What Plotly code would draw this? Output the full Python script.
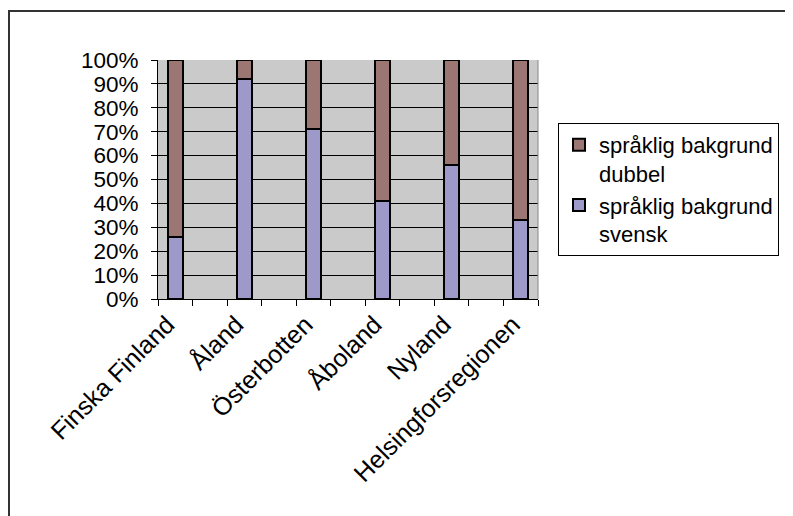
import plotly.graph_objects as go

regions = ["Finska Finland", "Åland", "Österbotten", "Åboland", "Nyland", "Helsingforsregionen"]
svensk = [26, 92, 71, 41, 56, 33]
dubbel = [74, 8, 29, 59, 44, 67]
series_names = ["språklig bakgrund<br>svensk", "språklig bakgrund<br>dubbel"]
y_ticks = list(range(0, 101, 10))
y_labels = [f"{v}%" for v in y_ticks]

# Excel-style layout: an empty category between each region
cats, sv_vals, du_vals = [], [], []
for i, name in enumerate(regions):
    cats.append(name); sv_vals.append(svensk[i]); du_vals.append(dubbel[i])
    if i < len(regions) - 1:
        cats.append(" " * (i + 1)); sv_vals.append(None); du_vals.append(None)

FONT = "Liberation Sans, Arial, sans-serif"
fig = go.Figure()
fig.add_trace(go.Bar(x=cats, y=sv_vals, name=series_names[0],
                     marker=dict(color="#9D99C8", line=dict(color="black", width=2))))
fig.add_trace(go.Bar(x=cats, y=du_vals, name=series_names[1],
                     marker=dict(color="#9B7672", line=dict(color="black", width=2))))

OFF = 8  # page body margin
W, H = 793 - OFF, 516 - OFF
L, R, T, B = 158 - OFF, 538 - OFF, 60 - OFF, 299 - OFF
def px(x): return (x - OFF - L) / (R - L)
def py(y): return (B - (y - OFF)) / (B - T)

fig.update_layout(
    width=W, height=H,
    barmode="stack", bargap=0.58,
    paper_bgcolor="white", plot_bgcolor="#CACACA",
    margin=dict(l=L, r=W - R, t=T, b=H - B, pad=0),
    font=dict(family=FONT, size=22, color="black"),
    showlegend=True,
    legend=dict(x=px(558), y=py(123), xanchor="left", yanchor="top",
                traceorder="reversed", valign="top",
                bgcolor="white", bordercolor="black", borderwidth=1,
                font=dict(family=FONT, size=22, color="black"),
                tracegroupgap=0),
    xaxis=dict(type="category", tickson="boundaries", tickangle=-45,
               showgrid=False, showline=True, linecolor="black", linewidth=1,
               ticks="outside", ticklen=6, tickcolor="black",
               ticklabelshift=-8,
               tickfont=dict(family=FONT, size=25, color="black"),
               range=[-0.5, len(cats) - 0.5]),
    yaxis=dict(range=[0, 100], tickvals=y_ticks, ticktext=y_labels,
               showgrid=True, gridcolor="black", gridwidth=1,
               showline=True, linecolor="black", linewidth=1,
               ticks="outside", ticklen=6, tickcolor="black",
               ticklabelstandoff=8, zeroline=False,
               tickfont=dict(family=FONT, size=22.5, color="black")),
    shapes=[
        dict(type="rect", xref="paper", yref="paper",
             x0=px(9), x1=px(830), y0=py(560), y1=py(11),
             line=dict(color="#333333", width=2), layer="above"),
        dict(type="line", xref="paper", yref="paper",
             x0=1, x1=1, y0=0, y1=1, line=dict(color="#888888", width=1)),
    ],
)

fig.write_html("out.html")
